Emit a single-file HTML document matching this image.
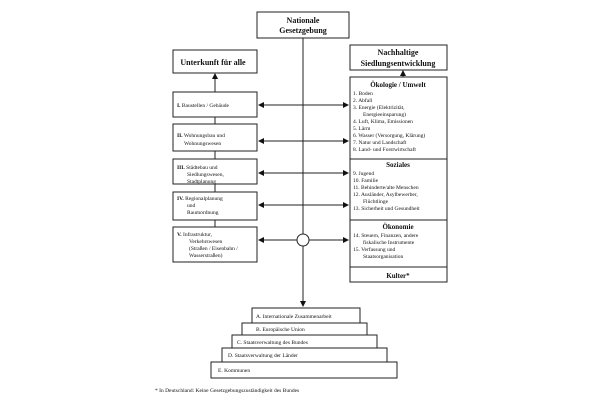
<!DOCTYPE html><html><head><style>
body{margin:0;background:#fff;}
svg text{font-family:"Liberation Serif",serif;fill:#111;}
</style></head><body>
<svg width="610" height="400" viewBox="0 0 610 400">
<defs><marker id="a" markerWidth="6" markerHeight="6" refX="5" refY="3" orient="auto-start-reverse"><path d="M0,0L6,3L0,6z" fill="#111"/></marker></defs>
<g fill="#fff" stroke="#222" stroke-width="1">
<rect x="257" y="12" width="92" height="26"/>
<rect x="173" y="50" width="84" height="23"/>
<rect x="350" y="45" width="97" height="25"/>
<rect x="350" y="77" width="97" height="205"/>
<line x1="350" y1="159" x2="447" y2="159"/>
<line x1="350" y1="220" x2="447" y2="220"/>
<line x1="350" y1="267" x2="447" y2="267"/>
<rect x="173" y="92" width="84" height="25"/>
<rect x="173" y="124" width="84" height="27"/>
<rect x="173" y="159" width="84" height="25"/>
<rect x="173" y="192" width="84" height="28"/>
<rect x="173" y="227" width="84" height="35"/>
<line x1="215" y1="117" x2="215" y2="124"/>
<line x1="215" y1="151" x2="215" y2="159"/>
<line x1="215" y1="184" x2="215" y2="192"/>
<line x1="215" y1="220" x2="215" y2="227"/>
<line x1="303" y1="38" x2="303" y2="306" marker-end="url(#a)"/>
<line x1="215" y1="92" x2="215" y2="74" marker-end="url(#a)"/>
<line x1="403" y1="77" x2="403" y2="71" marker-end="url(#a)"/>
</g>
<g stroke="#222" fill="none">
<line x1="259" y1="105" x2="348" y2="105" marker-start="url(#a)" marker-end="url(#a)"/>
<line x1="259" y1="141" x2="348" y2="141" marker-start="url(#a)" marker-end="url(#a)"/>
<line x1="259" y1="173" x2="348" y2="173" marker-start="url(#a)" marker-end="url(#a)"/>
<line x1="259" y1="205" x2="348" y2="205" marker-start="url(#a)" marker-end="url(#a)"/>
<line x1="259" y1="240" x2="297" y2="240" marker-start="url(#a)"/>
<line x1="309" y1="240" x2="348" y2="240" marker-end="url(#a)"/>
<circle cx="303" cy="240" r="6" fill="#fff"/>
</g>
<g fill="#fff" stroke="#222">
<rect x="211" y="362" width="186" height="16"/>
<rect x="222" y="348" width="165" height="14"/>
<rect x="232" y="335" width="145" height="13"/>
<rect x="242" y="323" width="125" height="12"/>
<rect x="252" y="308" width="108" height="15"/>
</g>
<g font-weight="bold" font-size="8" text-anchor="middle">
<text x="303" y="23">Nationale</text><text x="303" y="33">Gesetzgebung</text>
<text x="213" y="65">Unterkunft für alle</text>
<text x="398" y="55">Nachhaltige</text><text x="398" y="66">Siedlungsentwicklung</text>
<text x="398" y="87" font-size="7">Ökologie / Umwelt</text>
<text x="398" y="167" font-size="7">Soziales</text>
<text x="398" y="229" font-size="7">Ökonomie</text>
<text x="398" y="278" font-size="7">Kulter*</text>
</g>
<g font-size="5.5">
<text x="177" y="107"><tspan font-weight="bold">I.</tspan>   Baustellen / Gebäude</text>
<text x="177" y="137"><tspan font-weight="bold">II.</tspan>  Wohnungsbau und</text><text x="184" y="145">Wohnungswesen</text>
<text x="177" y="169"><tspan font-weight="bold">III.</tspan> Städtebau und</text><text x="187" y="176">Siedlungswesen,</text><text x="187" y="183">Stadtplanung</text>
<text x="177" y="200"><tspan font-weight="bold">IV.</tspan> Regionalplanung</text><text x="187" y="207">und</text><text x="187" y="214">Raumordnung</text>
<text x="177" y="236"><tspan font-weight="bold">V.</tspan>  Infrastruktur,</text><text x="189" y="243">Verkehrswesen</text><text x="189" y="250">(Straßen / Eisenbahn /</text><text x="189" y="257">Wasserstraßen)</text>
<text x="353" y="95">1.   Boden</text><text x="353" y="102">2.   Abfall</text><text x="353" y="109">3.   Energie (Elektrizität,</text><text x="363" y="116">Energieeinsparung)</text><text x="353" y="123">4.   Luft, Klima, Emissionen</text><text x="353" y="130">5.   Lärm</text><text x="353" y="137">6.   Wasser (Versorgung, Klärung)</text><text x="353" y="144">7.   Natur und Landschaft</text><text x="353" y="151">8.   Land- und Forstwirtschaft</text>
<text x="353" y="175">9.   Jugend</text><text x="353" y="182">10. Familie</text><text x="353" y="189">11. Behinderte/alte Menschen</text><text x="353" y="196">12. Ausländer, Asylbewerber,</text><text x="363" y="203">Flüchtlinge</text><text x="353" y="210">13. Sicherheit und Gesundheit</text>
<text x="353" y="237">14. Steuern, Finanzen, andere</text><text x="363" y="244">fiskalische Instrumente</text><text x="353" y="251">15. Verfassung und</text><text x="363" y="258">Staatsorganisation</text>
<text x="256" y="318">A. Internationale Zusammenarbeit</text>
<text x="256" y="331">B. Europäische Union</text>
<text x="237" y="344">C. Staatsverwaltung des Bundes</text>
<text x="228" y="357">D. Staatsverwaltung der Länder</text>
<text x="218" y="372">E. Kommunen</text>
<text x="155" y="392">* In Deutschland: Keine Gesetzgebungszuständigkeit des Bundes</text>
</g>
</svg>
</body></html>
